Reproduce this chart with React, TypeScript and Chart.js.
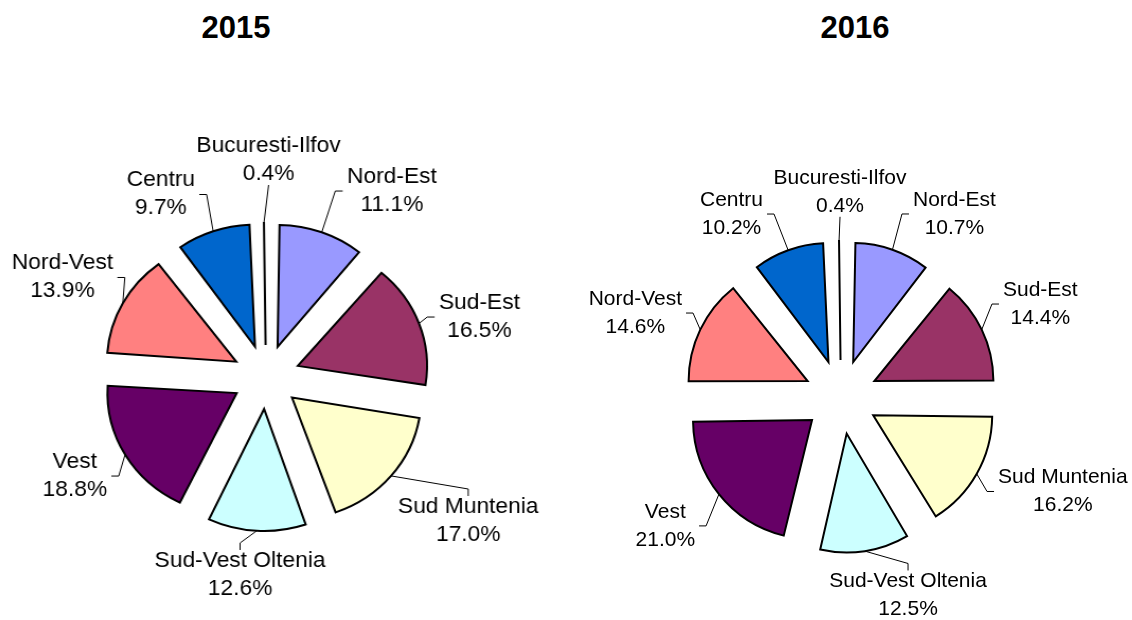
import React, { useEffect, useRef } from "react";
import { Chart, registerables } from "chart.js";

Chart.register(...registerables);

// ---- data ----
const regions = [
  "Nord-Est",
  "Sud-Est",
  "Sud Muntenia",
  "Sud-Vest Oltenia",
  "Vest",
  "Nord-Vest",
  "Centru",
  "Bucuresti-Ilfov",
];
const values2015 = [11.1, 16.5, 17.0, 12.6, 18.8, 13.9, 9.7, 0.4];
const values2016 = [10.7, 14.4, 16.2, 12.5, 21.0, 14.6, 10.2, 0.4];
const sliceColors = [
  "#9999FF",
  "#993366",
  "#FFFFCC",
  "#CCFFFF",
  "#660066",
  "#FF8080",
  "#0066CC",
  "#CCCCFF",
];
const years = ["2015", "2016"];

// ---- layout (label fine placement, canvas px) ----
const labelNudge2015: [number, number][] = [
  [9.9, -16.8],
  [-10.6, 2.6],
  [-18.4, 28.4],
  [-12.9, -6.7],
  [10.5, 8.4],
  [18.7, -13.3],
  [-3.7, -12.2],
  [5, -12],
];
const labelNudge2016: [number, number][] = [
  [7.6, -13.1],
  [-5.4, -15.3],
  [-4.6, 5.8],
  [35.6, -4.1],
  [-0.1, 16.8],
  [8.4, -6.3],
  [-12, -13.6],
  [1.6, -0.2],
];

const OFFSET_DIV = 4; // Chart.js 4 draws arc offset / 4
const CW = 640;
const CH = 620;
const FONT = '"Liberation Sans", Arial, sans-serif';

const pieLabels = {
  id: "pieLabels",
  beforeDatasetsDraw(chart: any, _args: any, opts: any) {
    const meta = chart.getDatasetMeta(0);
    meta.data.forEach((arc: any) => {
      const circ = arc.endAngle - arc.startAngle;
      const off = (arc.options.offset || 0) / OFFSET_DIV;
      const fix = 1 - Math.sin(Math.min(Math.PI, circ));
      arc.outerRadius = opts.radius - off * fix;
    });
  },
  afterDatasetsDraw(chart: any, _args: any, opts: any) {
    const ctx = chart.ctx;
    const meta = chart.getDatasetMeta(0);
    const labels = chart.data.labels;
    const data = chart.data.datasets[0].data;
    const LH = opts.lineHeight;
    const GAP = 5;
    const HALF = 22;
    ctx.save();
    ctx.font = `${opts.fontSize}px ${FONT}`;
    ctx.fillStyle = "#000";
    ctx.strokeStyle = "#000";
    ctx.lineWidth = 1;
    ctx.textBaseline = "middle";
    ctx.textAlign = "center";
    meta.data.forEach((arc: any, i: number) => {
      const { x, y, startAngle, endAngle } = arc;
      const mid = (startAngle + endAngle) / 2;
      const dx = Math.cos(mid);
      const dy = Math.sin(mid);
      const off = (arc.options.offset || 0) / OFFSET_DIV;
      const R = opts.radius;
      const px = x + dx * (off + R);
      const py = y + dy * (off + R);
      const lines = [labels[i], Number(data[i]).toFixed(1) + "%"];
      const w = Math.max(...lines.map((t: string) => ctx.measureText(t).width));
      const [nx, ny] = opts.nudge[i] || [0, 0];
      let bx: number;
      let by: number;
      let side = 0;
      if (Math.abs(dx) < 0.22) {
        bx = x + dx * opts.centerDist + nx;
        by = y + dy * opts.centerDist + ny;
      } else {
        side = dx > 0 ? 1 : -1;
        const ax = x + dx * opts.sideDist;
        const ay = y + dy * opts.sideDist;
        const edge = ax + side * GAP + nx;
        bx = edge + side * (w / 2);
        by = ay + ny;
      }
      ctx.fillText(lines[0], bx, by - LH / 2);
      ctx.fillText(lines[1], bx, by + LH / 2);

      const top = by - HALF;
      const bottom = by + HALF;
      ctx.beginPath();
      ctx.moveTo(px, py);
      if (top > py + 15) {
        ctx.lineTo(bx, top - 10);
        ctx.lineTo(bx, top - 3);
      } else if (side === 0) {
        ctx.lineTo(bx, bottom + 3);
      } else {
        const near = bx - side * (w / 2);
        const ex = near - side * 4;
        ctx.lineTo(ex - side * 7, by);
        ctx.lineTo(ex, by);
      }
      ctx.stroke();
    });
    ctx.restore();
  },
};

function PieChart(props: {
  values: number[];
  radius: number;
  offset: number;
  nudge: [number, number][];
  centerX: number;
  centerY: number;
  stretch: number;
  fontSize: number;
}) {
  const ref = useRef<HTMLCanvasElement | null>(null);
  useEffect(() => {
    if (!ref.current) return;
    const chart = new Chart(ref.current, {
      type: "pie",
      data: {
        labels: regions,
        datasets: [
          {
            data: props.values,
            backgroundColor: sliceColors,
            borderColor: "#000",
            borderWidth: 2,
            borderJoinStyle: "miter",
            offset: props.offset * OFFSET_DIV,
            radius: props.radius,
          } as any,
        ],
      },
      options: {
        responsive: false,
        maintainAspectRatio: false,
        animation: false,
        layout: { padding: 0 },
        plugins: {
          legend: { display: false },
          tooltip: { enabled: false },
          pieLabels: {
            radius: props.radius,
            fontSize: props.fontSize,
            lineHeight: 28,
            sideDist: 180,
            centerDist: 205,
            nudge: props.nudge,
          },
        } as any,
      },
      plugins: [pieLabels as any],
    });
    return () => chart.destroy();
  }, []);
  const w = CW * props.stretch;
  return (
    <canvas
      ref={ref}
      width={CW}
      height={CH}
      style={{
        position: "absolute",
        left: props.centerX - w / 2,
        top: props.centerY - CH / 2,
        width: w,
        height: CH,
      }}
    />
  );
}

export default function App() {
  useEffect(() => {
    document.body.style.margin = "0";
  }, []);
  const titleStyle: React.CSSProperties = {
    position: "absolute",
    top: 12,
    transform: "translateX(-50%)",
    fontFamily: FONT,
    fontWeight: "bold",
    fontSize: 31,
    lineHeight: "31px",
    color: "#000",
    whiteSpace: "nowrap",
  };
  return (
    <div
      style={{
        position: "relative",
        width: 1132,
        height: 620,
        overflow: "hidden",
        background: "#fff",
      }}
    >
      <PieChart
        values={values2015}
        radius={122}
        offset={32}
        nudge={labelNudge2015}
        centerX={266}
        centerY={377}
        stretch={1.06}
        fontSize={21.5}
      />
      <PieChart
        values={values2016}
        radius={119}
        offset={37}
        nudge={labelNudge2016}
        centerX={841}
        centerY={397}
        stretch={1}
        fontSize={21}
      />
      <div style={{ ...titleStyle, left: 236 }}>{years[0]}</div>
      <div style={{ ...titleStyle, left: 855 }}>{years[1]}</div>
    </div>
  );
}
